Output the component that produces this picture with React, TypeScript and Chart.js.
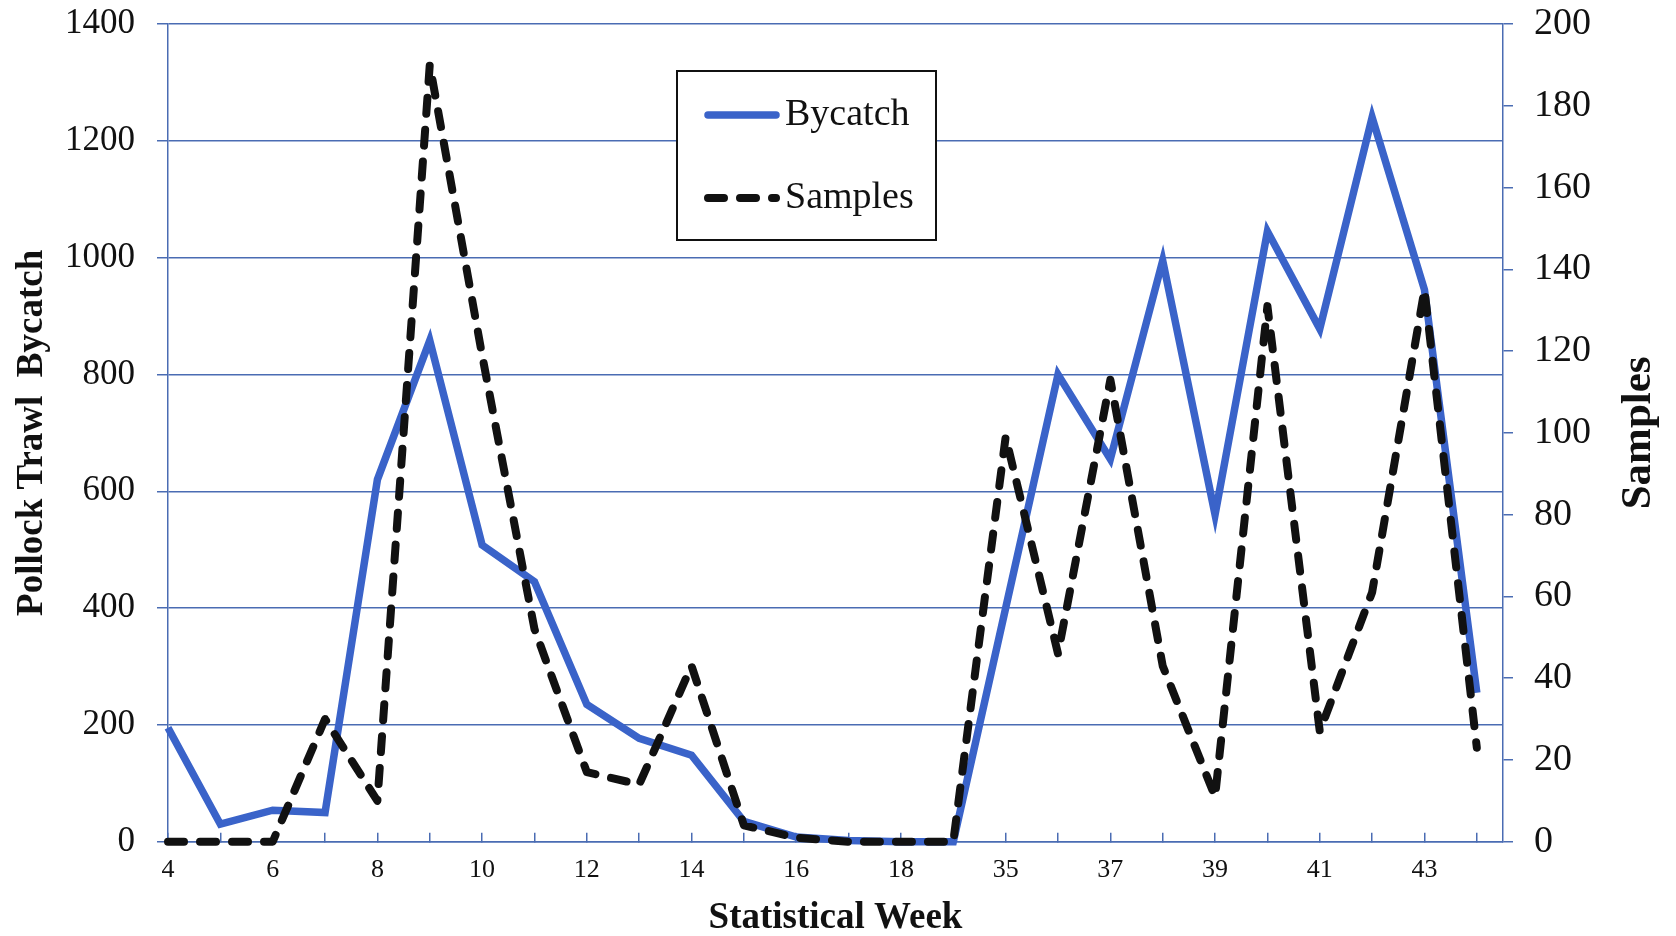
import React, { useEffect, useRef } from 'react';
import { Chart, registerables } from 'chart.js';

Chart.register(...registerables);

// Statistical weeks (categories)
const weeks = [4, 5, 6, 7, 8, 9, 10, 11, 12, 13, 14, 15, 16, 17, 18, 19, 35, 36, 37, 38, 39, 40, 41, 42, 43, 44];
// Pollock trawl bycatch (left axis)
const bycatch = [195, 30, 54, 50, 620, 858, 508, 445, 235, 177, 148, 35, 8, 2, 0, 0, 400, 800, 655, 995, 560, 1045, 878, 1240, 945, 255];
// Samples (right axis)
const samples = [0, 0, 0, 30, 10, 190, 119, 52, 17, 14, 43, 4, 1, 0, 0, 0, 99, 46, 113, 43, 11, 131, 27, 61, 135, 23];

const FONT = '"Liberation Serif", "Times New Roman", Times, serif';
const GRID = '#4a6cb3';
const BLUE = '#3a63c9';
const INK = '#111111';

export default function App() {
  const ref = useRef<HTMLCanvasElement>(null);

  useEffect(() => {
    document.body.style.margin = '0';
    const canvas = ref.current;
    if (!canvas) return;

    const titlesPlugin = {
      id: 'axisTitles',
      afterDraw(chart: any) {
        const c = chart.ctx;
        const a = chart.chartArea;
        const midY = (a.top + a.bottom) / 2;
        c.save();
        c.fillStyle = INK;
        c.textAlign = 'center';
        c.textBaseline = 'middle';
        c.font = `bold 37px ${FONT}`;
        c.fillText('Statistical Week', (a.left + a.right) / 2, 918);
        c.save();
        c.translate(32, midY);
        c.rotate(-Math.PI / 2);
        c.fillText('Pollock Trawl  Bycatch', 0, 0);
        c.restore();
        c.save();
        c.font = `bold 43px ${FONT}`;
        c.translate(1639, midY);
        c.rotate(-Math.PI / 2);
        c.fillText('Samples', 0, 0);
        c.restore();
        c.restore();
      },
    };

    const legendPlugin = {
      id: 'boxLegend',
      afterDraw(chart: any) {
        const c = chart.ctx;
        const box = { x: 677, y: 71, w: 259, h: 169 };
        c.save();
        c.fillStyle = '#ffffff';
        c.fillRect(box.x, box.y, box.w, box.h);
        c.strokeStyle = INK;
        c.lineWidth = 2;
        c.strokeRect(box.x, box.y, box.w, box.h);
        const rows = [115, 198];
        chart.data.datasets.forEach((ds: any, i: number) => {
          const y = rows[i];
          c.beginPath();
          c.strokeStyle = ds.borderColor;
          c.lineWidth = ds.borderWidth;
          c.lineCap = 'round';
          c.setLineDash(ds.borderDash || []);
          c.moveTo(708, y);
          c.lineTo(776, y);
          c.stroke();
          c.setLineDash([]);
          c.fillStyle = INK;
          c.font = `38px ${FONT}`;
          c.textAlign = 'left';
          c.textBaseline = 'middle';
          c.fillText(ds.label, 785, y);
        });
        c.restore();
      },
    };

    const noPad = (s: any) => {
      s.paddingTop = 0;
      s.paddingBottom = 0;
    };

    const chart = new Chart(canvas, {
      type: 'line',
      data: {
        datasets: [
          {
            label: 'Bycatch',
            data: bycatch.map((v, i) => ({ x: i, y: v })),
            yAxisID: 'y',
            borderColor: BLUE,
            backgroundColor: BLUE,
            borderWidth: 7.5,
            borderJoinStyle: 'miter',
            pointRadius: 0,
            tension: 0,
            order: 1,
            clip: false,
          },
          {
            label: 'Samples',
            data: samples.map((v, i) => ({ x: i, y: v })),
            yAxisID: 'y1',
            borderColor: INK,
            backgroundColor: INK,
            borderWidth: 8,
            borderDash: [16, 16],
            borderCapStyle: 'round',
            borderJoinStyle: 'round',
            pointRadius: 0,
            tension: 0,
            order: 0,
            clip: false,
          },
        ],
      },
      options: {
        animation: false,
        responsive: false,
        devicePixelRatio: 1,
        layout: { padding: { top: 24, left: 0, right: 0, bottom: 0 } },
        plugins: { legend: { display: false }, tooltip: { enabled: false } },
        scales: {
          x: {
            type: 'linear',
            min: 0,
            max: 25.5,
            afterBuildTicks: (s: any) => {
              s.ticks = weeks.map((_, i) => ({ value: i }));
            },
            afterFit: (s: any) => {
              s.height = 94.3;
              s.paddingLeft = 0;
              s.paddingRight = 0;
            },
            ticks: {
              autoSkip: false,
              maxRotation: 0,
              minRotation: 0,
              padding: 22,
              color: INK,
              font: { family: FONT, size: 26 },
              callback: (v: any) => (Number.isInteger(v) && v % 2 === 0 ? String(weeks[v]) : ''),
            },
            grid: { drawOnChartArea: false, drawTicks: true, tickLength: -9, color: GRID, lineWidth: 1.5 },
            border: { display: true, color: GRID, width: 1.5 },
          },
          y: {
            type: 'linear',
            position: 'left',
            min: 0,
            max: 1400,
            afterFit: (s: any) => {
              s.width = 168;
              noPad(s);
            },
            ticks: {
              stepSize: 200,
              padding: 22,
              color: INK,
              font: { family: FONT, size: 35 },
              callback: (v: any) => String(v),
            },
            grid: { drawOnChartArea: true, drawTicks: true, tickLength: 11, color: GRID, lineWidth: 1.5 },
            border: { display: true, color: GRID, width: 1.5 },
          },
          y1: {
            type: 'linear',
            position: 'right',
            min: 0,
            max: 200,
            afterFit: (s: any) => {
              s.width = 173;
              noPad(s);
            },
            ticks: {
              stepSize: 20,
              padding: 21,
              color: INK,
              font: { family: FONT, size: 38 },
              callback: (v: any) => String(v),
            },
            grid: { drawOnChartArea: false, drawTicks: true, tickLength: 10, color: GRID, lineWidth: 1.5 },
            border: { display: true, color: GRID, width: 1.5 },
          },
        },
      },
      plugins: [titlesPlugin, legendPlugin],
    } as any);

    return () => chart.destroy();
  }, []);

  return (
    <div style={{ width: 1676, height: 936, background: '#ffffff' }}>
      <canvas ref={ref} width={1676} height={936} style={{ display: 'block' }} />
    </div>
  );
}
